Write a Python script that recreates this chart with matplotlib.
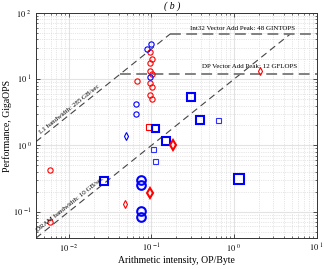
import numpy as np
import matplotlib
matplotlib.use("Agg")
import matplotlib.pyplot as plt
from matplotlib.ticker import FixedLocator, LogLocator, NullFormatter

plt.rcParams['font.family'] = ['Liberation Serif', 'DejaVu Serif']
plt.rcParams['mathtext.fontset'] = 'stix'

# roofline ceilings
l1_bw = 285.0      # GB/sec
dram_bw = 10.0     # GB/sec
int32_peak = 48.0  # GINTOPS
dp_peak = 12.0     # GFLOPS

# measured kernels (arithmetic intensity, performance)
red_circ_x = [0.0957, 0.102, 0.0967, 0.0967, 0.102, 0.0674, 0.0975, 0.102, 0.0957, 0.102, 0.00588, 0.00588]
red_circ_y = [26.0, 20.2, 17.8, 13.3, 12.0, 9.5, 8.7, 7.55, 5.8, 4.99, 0.425, 0.0704]
blue_circ_x = [0.0995, 0.088, 0.0957, 0.0643, 0.0643]
blue_circ_y = [34.0, 28.6, 10.9, 4.22, 3.03]
blue_circ_big_x = [0.0738, 0.0738, 0.0738, 0.0738]
blue_circ_big_y = [0.30, 0.252, 0.103, 0.082]
red_sq_x = [0.093]
red_sq_y = [1.88]
blue_sq_big_x = [0.112, 0.151, 0.303, 0.392, 0.0266, 1.15]
blue_sq_big_y = [1.83, 1.16, 5.33, 2.42, 0.29, 0.308]
blue_sq_big_s = [7.0, 8.0, 8.0, 8.0, 8.0, 10.0]
blue_sq_x = [0.641, 0.104, 0.112]
blue_sq_y = [2.42, 0.88, 0.58]
red_dia_x = [2.08, 0.0473]
red_dia_y = [13.4, 0.129]
red_dia_big_x = [0.184, 0.0957]
red_dia_big_y = [1.02, 0.189]
blue_dia_x = [0.0497]
blue_dia_y = [1.39]

xlim = (0.004, 10)
ylim = (0.04, 100)

fig = plt.figure(figsize=(3.24, 2.69), dpi=100)
ax = fig.add_axes([0.111, 0.115, 0.866, 0.837])
ax.set_xscale('log')
ax.set_yscale('log')
ax.set_xlim(xlim)
ax.set_ylim(ylim)

# grids
ax.grid(True, which='major', color='#e3e3e3', linewidth=0.8, linestyle='-')
ax.grid(True, which='minor', color='#cfcfcf', linewidth=0.5, linestyle=':')
ax.set_axisbelow(True)

# roofline lines
x_l1_int = int32_peak / l1_bw
x_l1_dp = dp_peak / l1_bw
x_dram_int = int32_peak / dram_bw
ax.plot([xlim[0], x_l1_int], [xlim[0] * l1_bw, int32_peak], '--', color='#444444', lw=0.8, dashes=(6, 4))
ax.plot([xlim[0], x_dram_int], [xlim[0] * dram_bw, int32_peak], '--', color='#444444', lw=0.8, dashes=(6, 4))
ax.plot([x_l1_int, xlim[1]], [int32_peak, int32_peak], '--', color='#777777', lw=1.3, dashes=(6, 3))
ax.plot([x_l1_dp, xlim[1]], [dp_peak, dp_peak], '--', color='#777777', lw=1.3, dashes=(6, 3))

ang = np.degrees(np.arctan(66.2 / 82.8))
ax.text(0.0101, 3.5, 'L1 bandwidth: 285 GB/sec', rotation=ang, fontsize=5,
        ha='center', va='center', rotation_mode='anchor')
ax.text(0.0103, 0.131, 'DRAM bandwidth: 10 GB/sec', rotation=ang, fontsize=5,
        ha='center', va='center', rotation_mode='anchor')
ax.text(1.26, 59, 'Int32 Vector Add Peak: 48 GINTOPS', fontsize=5, ha='center', va='center')
ax.text(1.53, 15.3, 'DP Vector Add Peak: 12 GFLOPS', fontsize=5, ha='center', va='center')

# markers
ax.plot(red_circ_x, red_circ_y, 'o', mfc='none', mec='red', ms=3.8, mew=0.8, ls='none')
ax.plot(blue_circ_x, blue_circ_y, 'o', mfc='none', mec='blue', ms=3.8, mew=0.8, ls='none')
ax.plot(blue_circ_big_x, blue_circ_big_y, 'o', mfc='none', mec='blue', ms=6.2, mew=1.5, ls='none')
ax.plot(red_sq_x, red_sq_y, 's', mfc='none', mec='red', ms=4.0, mew=0.8, ls='none')
for x, y, s in zip(blue_sq_big_x, blue_sq_big_y, blue_sq_big_s):
    ax.plot([x], [y], 's', mfc='none', mec='blue', ms=s * 0.72, mew=1.5, ls='none')
ax.plot(blue_sq_x, blue_sq_y, 's', mfc='none', mec='#3030ff', ms=3.6, mew=0.8, ls='none')
ax.plot(red_dia_x, red_dia_y, 'd', mfc='none', mec='red', ms=3.8, mew=0.8, ls='none')
ax.plot(red_dia_big_x, red_dia_big_y, 'd', mfc='none', mec='red', ms=5.5, mew=1.5, ls='none')
ax.plot(blue_dia_x, blue_dia_y, 'd', mfc='none', mec='blue', ms=3.8, mew=0.8, ls='none')

# ticks
xt = [0.01, 0.1, 1, 10]
yt = [0.1, 1, 10, 100]
ax.xaxis.set_major_locator(FixedLocator(xt))
ax.yaxis.set_major_locator(FixedLocator(yt))
ax.xaxis.set_minor_locator(LogLocator(base=10, subs=np.arange(2, 10), numticks=20))
ax.yaxis.set_minor_locator(LogLocator(base=10, subs=np.arange(2, 10), numticks=20))
ax.xaxis.set_minor_formatter(NullFormatter())
ax.yaxis.set_minor_formatter(NullFormatter())
ax.set_xticklabels([r'$10\ ^{%d}$' % e for e in [-2, -1, 0, 1]])
ax.set_yticklabels([r'$10\ ^{%d}$' % e for e in [-1, 0, 1, 2]])
ax.tick_params(which='both', direction='in', top=True, right=True, labelsize=6, color='#333333')
ax.tick_params(which='major', length=3, width=0.6, pad=3)
ax.tick_params(which='minor', length=1.6, width=0.5)
for sp in ax.spines.values():
    sp.set_linewidth(0.7)
    sp.set_color('#333333')

ax.set_xlabel('Arithmetic intensity, OP/Byte', fontsize=7, labelpad=1)
ax.set_ylabel('Performance, GigaOPS', fontsize=7, labelpad=1)
fig.text(0.53, 0.978, '( b )', fontsize=7, style='italic', ha='center', va='center')

fig.savefig('out.png', dpi=100)
